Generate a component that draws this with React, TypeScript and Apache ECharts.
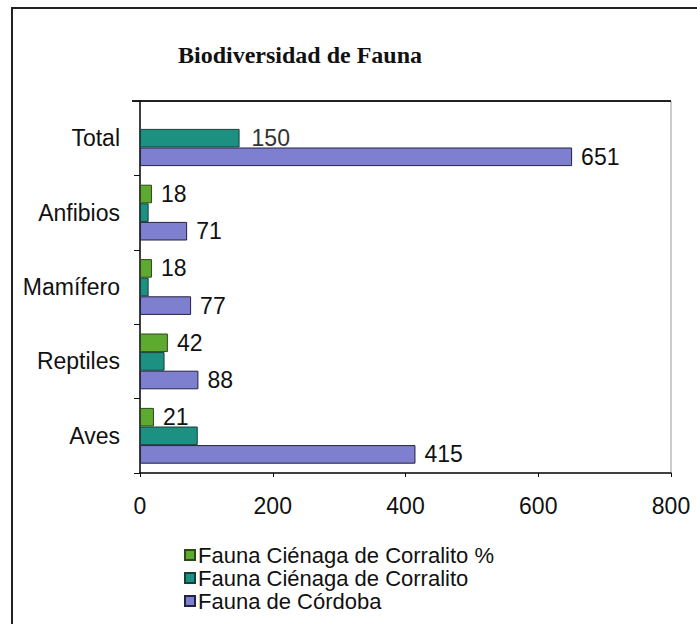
import React, { useEffect, useRef } from "react";
import * as echarts from "echarts";

const categories = ["Aves", "Reptiles", "Mamífero", "Anfibios", "Total"];
const seriesNames = [
  "Fauna Ciénaga de Corralito %",
  "Fauna Ciénaga de Corralito",
  "Fauna de Córdoba",
];
const corralitoPct: (number | null)[] = [21, 42, 18, 18, null];
const corralito: number[] = [87, 37, 13, 13, 150];
const cordoba: number[] = [415, 88, 77, 71, 651];
const corralitoLabelled = [false, false, false, false, true];
const xTicks = [0, 200, 400, 600, 800];

export default function App() {
  const ref = useRef<HTMLDivElement>(null);
  useEffect(() => {
    if (!ref.current) return;
    const chart = echarts.init(ref.current, null, { renderer: "svg" });
    const font = "Liberation Sans, Arial, sans-serif";
    const labelStyle = {
      show: true,
      position: "right" as const,
      fontFamily: font,
      fontSize: 23,
      color: "#111",
      distance: 9,
    };
    chart.setOption({
      animation: false,
      backgroundColor: "#fff",
      title: {
        text: "Biodiversidad de Fauna",
        left: 173,
        top: 38,
        textStyle: {
          fontFamily: "Liberation Serif, serif",
          fontWeight: "bold",
          fontSize: 24,
          color: "#111",
        },
      },
      legend: {
        orient: "vertical",
        left: 179,
        top: 539,
        itemWidth: 10,
        itemHeight: 10,
        itemGap: 1,
        icon: "rect",
        data: seriesNames,
        textStyle: { fontFamily: font, fontSize: 22, lineHeight: 22, color: "#111", padding: [0, 0, 0, -2] },
      },
      grid: { left: 140, right: 26, top: 101, bottom: 151, show: true, borderColor: "#999", borderWidth: 1 },
      graphic: [
        { type: "rect", shape: { x: 12, y: 8, width: 720, height: 700 }, style: { fill: "none", stroke: "#222", lineWidth: 2 } },
        { type: "line", shape: { x1: 132, y1: 101, x2: 671, y2: 101 }, style: { stroke: "#222", lineWidth: 2 } },
      ],
      xAxis: {
        type: "value",
        min: xTicks[0],
        max: xTicks[xTicks.length - 1],
        interval: 200,
        splitLine: { show: false },
        axisLine: { show: true, lineStyle: { color: "#111", width: 1.5 } },
        axisTick: { show: true, length: 4, lineStyle: { color: "#111" } },
        axisLabel: { fontFamily: font, fontSize: 23, color: "#111", margin: 21 },
      },
      yAxis: {
        type: "category",
        data: categories,
        axisLine: { show: true, lineStyle: { color: "#111", width: 1.5 } },
        axisTick: { show: true, length: 6, lineStyle: { color: "#111" } },
        axisLabel: { fontFamily: font, fontSize: 23, color: "#111", margin: 20 },
      },
      series: [
        {
          name: seriesNames[0],
          type: "bar",
          data: corralitoPct,
          barGap: "0%",
          barCategoryGap: "25%",
          itemStyle: { color: "#5eaa30", borderColor: "#2a4a1a", borderWidth: 1 },
          label: labelStyle,
        },
        {
          name: seriesNames[1],
          type: "bar",
          data: corralito.map((v, i) => ({
            value: v,
            label: { show: corralitoLabelled[i] },
          })),
          barGap: "0%",
          barCategoryGap: "25%",
          itemStyle: { color: "#1c9182", borderColor: "#14403a", borderWidth: 1 },
          label: { ...labelStyle, show: false, color: "#333", distance: 12 },
        },
        {
          name: seriesNames[2],
          type: "bar",
          data: cordoba,
          barGap: "0%",
          barCategoryGap: "25%",
          itemStyle: { color: "#7f7fd0", borderColor: "#222244", borderWidth: 1 },
          label: labelStyle,
        },
      ],
    });
    return () => chart.dispose();
  }, []);
  return <div ref={ref} style={{ width: 697, height: 624, position: "absolute", left: 0, top: 0 }} />;
}
